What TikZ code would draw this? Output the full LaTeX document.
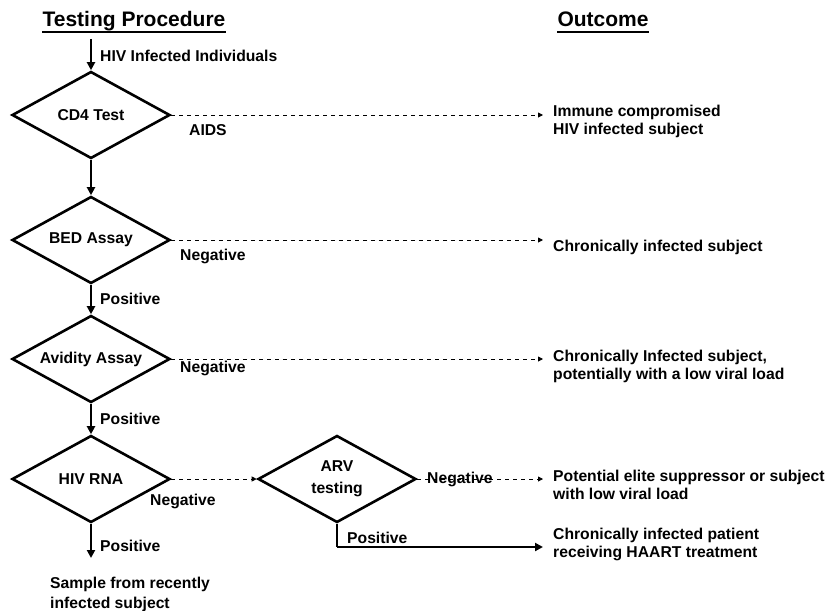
\documentclass[tikz,border=0pt]{standalone}
\usepackage{fontspec}
\setmainfont{Liberation Sans}
\usetikzlibrary{shapes.geometric,arrows.meta,calc}
\newcommand{\txtfont}{\bfseries\fontsize{15.7}{18}\selectfont}
\begin{document}
\begin{tikzpicture}[x=1pt,y=-1pt,
  dia/.style={diamond, draw, line width=2.6pt, aspect=1.8, minimum width=158pt, minimum height=87pt, inner sep=0pt, font=\txtfont, align=center},
  lbl/.style={anchor=base west, inner sep=0pt, font=\txtfont},
  outc/.style={anchor=base west, inner xsep=10pt, inner ysep=0pt, font=\txtfont},
  ttl/.style={anchor=base, inner sep=0pt, font=\bfseries\fontsize{21}{25}\selectfont},
  flow/.style={line width=2.2pt, -{Triangle[length=8pt,width=8pt]}},
  dflow/.style={line width=0.9pt, dash pattern=on 4pt off 4pt, -{Triangle[length=5pt,width=5pt]}},
  pline/.style={line width=2.2pt}]
\useasboundingbox (0,0) rectangle (832,610);

% titles
\node[ttl] (t1) at (134,27) {Testing Procedure};
\node[ttl] (t2) at (603,27) {Outcome};
\draw[line width=1.6pt] ($(t1.base west)+(0,5)$) -- ($(t1.base east)+(0,5)$);
\draw[line width=1.6pt] ($(t2.base west)+(0,5)$) -- ($(t2.base east)+(0,5)$);

% decision nodes
\node[dia] (cd4) at (91,115) {CD4 Test};
\node[dia] (bed) at (91,240) {BED Assay};
\node[dia] (avi) at (91,359) {Avidity Assay};
\node[dia] (rna) at (91,479) {HIV RNA};
\node[dia] (arv) at (337,479) {ARV\\[4pt]testing};

% outcomes
\node[outc] (o1) at (543,116) {\begin{tabular}[t]{@{}l@{}}Immune compromised\\HIV infected subject\end{tabular}};
\node[outc] (o2) at (543,251) {Chronically infected subject};
\node[outc] (o3) at (543,361) {\begin{tabular}[t]{@{}l@{}}Chronically Infected subject,\\potentially with a low viral load\end{tabular}};
\node[outc] (o4) at (543,481) {\begin{tabular}[t]{@{}l@{}}Potential elite suppressor or subject\\with low viral load\end{tabular}};
\node[outc] (o5) at (543,539) {\begin{tabular}[t]{@{}l@{}}Chronically infected patient\\receiving HAART treatment\end{tabular}};
\node[lbl] (o6) at (50,588) {\fontsize{15.7}{20}\selectfont\begin{tabular}[t]{@{}l@{}}Sample from recently\\infected subject\end{tabular}};

% labels
\node[lbl] (l0) at (100,61) {HIV Infected Individuals};
\node[lbl] (l1) at (189,135) {AIDS};
\node[lbl] (l2) at (180,260) {Negative};
\node[lbl] (l3) at (100,304) {Positive};
\node[lbl] (l4) at (180,372) {Negative};
\node[lbl] (l5) at (100,424) {Positive};
\node[lbl] (l6) at (150,505) {Negative};
\node[lbl] (l7) at (100,551) {Positive};
\node[lbl] (l8) at (427,483) {Negative};
\node[lbl] (l9) at (347,543) {Positive};

% connectors
\coordinate (start) at (91,39);
\coordinate (rnaend) at (91,558);
\coordinate (bend) at (337,547);
\draw[flow] (start) -- (cd4.north);
\draw[flow] (cd4.south) -- (bed.north);
\draw[flow] (bed.south) -- (avi.north);
\draw[flow] (avi.south) -- (rna.north);
\draw[flow] (rna.south) -- (rnaend);
\draw[dflow] (cd4.east) -- (cd4.east -| o1.west);
\draw[dflow] (bed.east) -- (bed.east -| o2.west);
\draw[dflow] (avi.east) -- (avi.east -| o3.west);
\draw[dflow] (rna.east) -- (arv.west);
\draw[dflow] (arv.east) -- (arv.east -| o4.west);
\draw[pline] (arv.south) -- (bend);
\draw[flow] (bend) -- (bend -| o5.west);
\end{tikzpicture}
\end{document}
